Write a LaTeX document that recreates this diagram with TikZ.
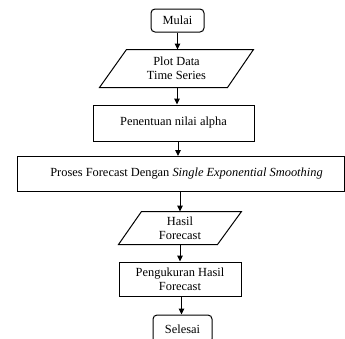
\documentclass[tikz,border=0pt]{standalone}
\usepackage{fontspec}
\setmainfont{Liberation Serif}
\usetikzlibrary{arrows.meta,calc}
\begin{document}
\begin{tikzpicture}[x=1pt,y=-1pt,
  every node/.style={font=\fontsize{12.4}{14}\selectfont, align=center, inner sep=0pt, line width=1pt},
  term/.style={draw, rounded corners=4pt},
  procbox/.style={draw},
  iobox/.style={},
  conn/.style={line width=1pt, -{Triangle[length=6pt,width=5.5pt]}}]
\useasboundingbox (0,0) rectangle (345,338);
\clip (0,0) rectangle (345,338);
\node[term, minimum width=53pt, minimum height=23pt] (m) at (177.5,20.5) {Mulai};
\node[iobox, minimum width=153pt, minimum height=37pt] (p) at (176.5,68.5) {Plot Data\\Time Series};
\draw[line width=1pt] ($(p.north west)+(27,0)$) -- (p.north east) -- ($(p.south east)+(-26,0)$) -- (p.south west) -- cycle;
\node[procbox, minimum width=161pt, minimum height=36pt] (a) at (173.5,123) {Penentuan nilai alpha};
\node[procbox, minimum width=327pt, minimum height=35pt] (f) at (180.5,174) {\hspace*{12pt}Proses Forecast Dengan \textit{Single Exponential Smoothing}};
\node[iobox, minimum width=122pt, minimum height=32pt] (h) at (180,228) {Hasil\\Forecast};
\draw[line width=1pt] ($(h.north west)+(23,0)$) -- (h.north east) -- ($(h.south east)+(-24,0)$) -- (h.south west) -- cycle;
\node[procbox, minimum width=122pt, minimum height=34pt] (u) at (180,279) {Pengukuran Hasil\\Forecast};
\node[term, minimum width=59pt, minimum height=28pt, text depth=0pt] (s) at (182.5,329) {\raisebox{0pt}{Selesai}};
\draw[conn] (m.south) -- (m.south |- p.north);
\draw[conn] (177,87) coordinate (c1) -- (c1 |- a.north);
\draw[conn] (178,141) coordinate (c2) -- (c2 |- f.north);
\draw[conn] (180,191.5) coordinate (c3) -- (c3 |- h.north);
\draw[conn] (h.south) -- (u.north);
\draw[conn] (181.5,296) coordinate (c4) -- (c4 |- s.north);
\end{tikzpicture}
\end{document}
